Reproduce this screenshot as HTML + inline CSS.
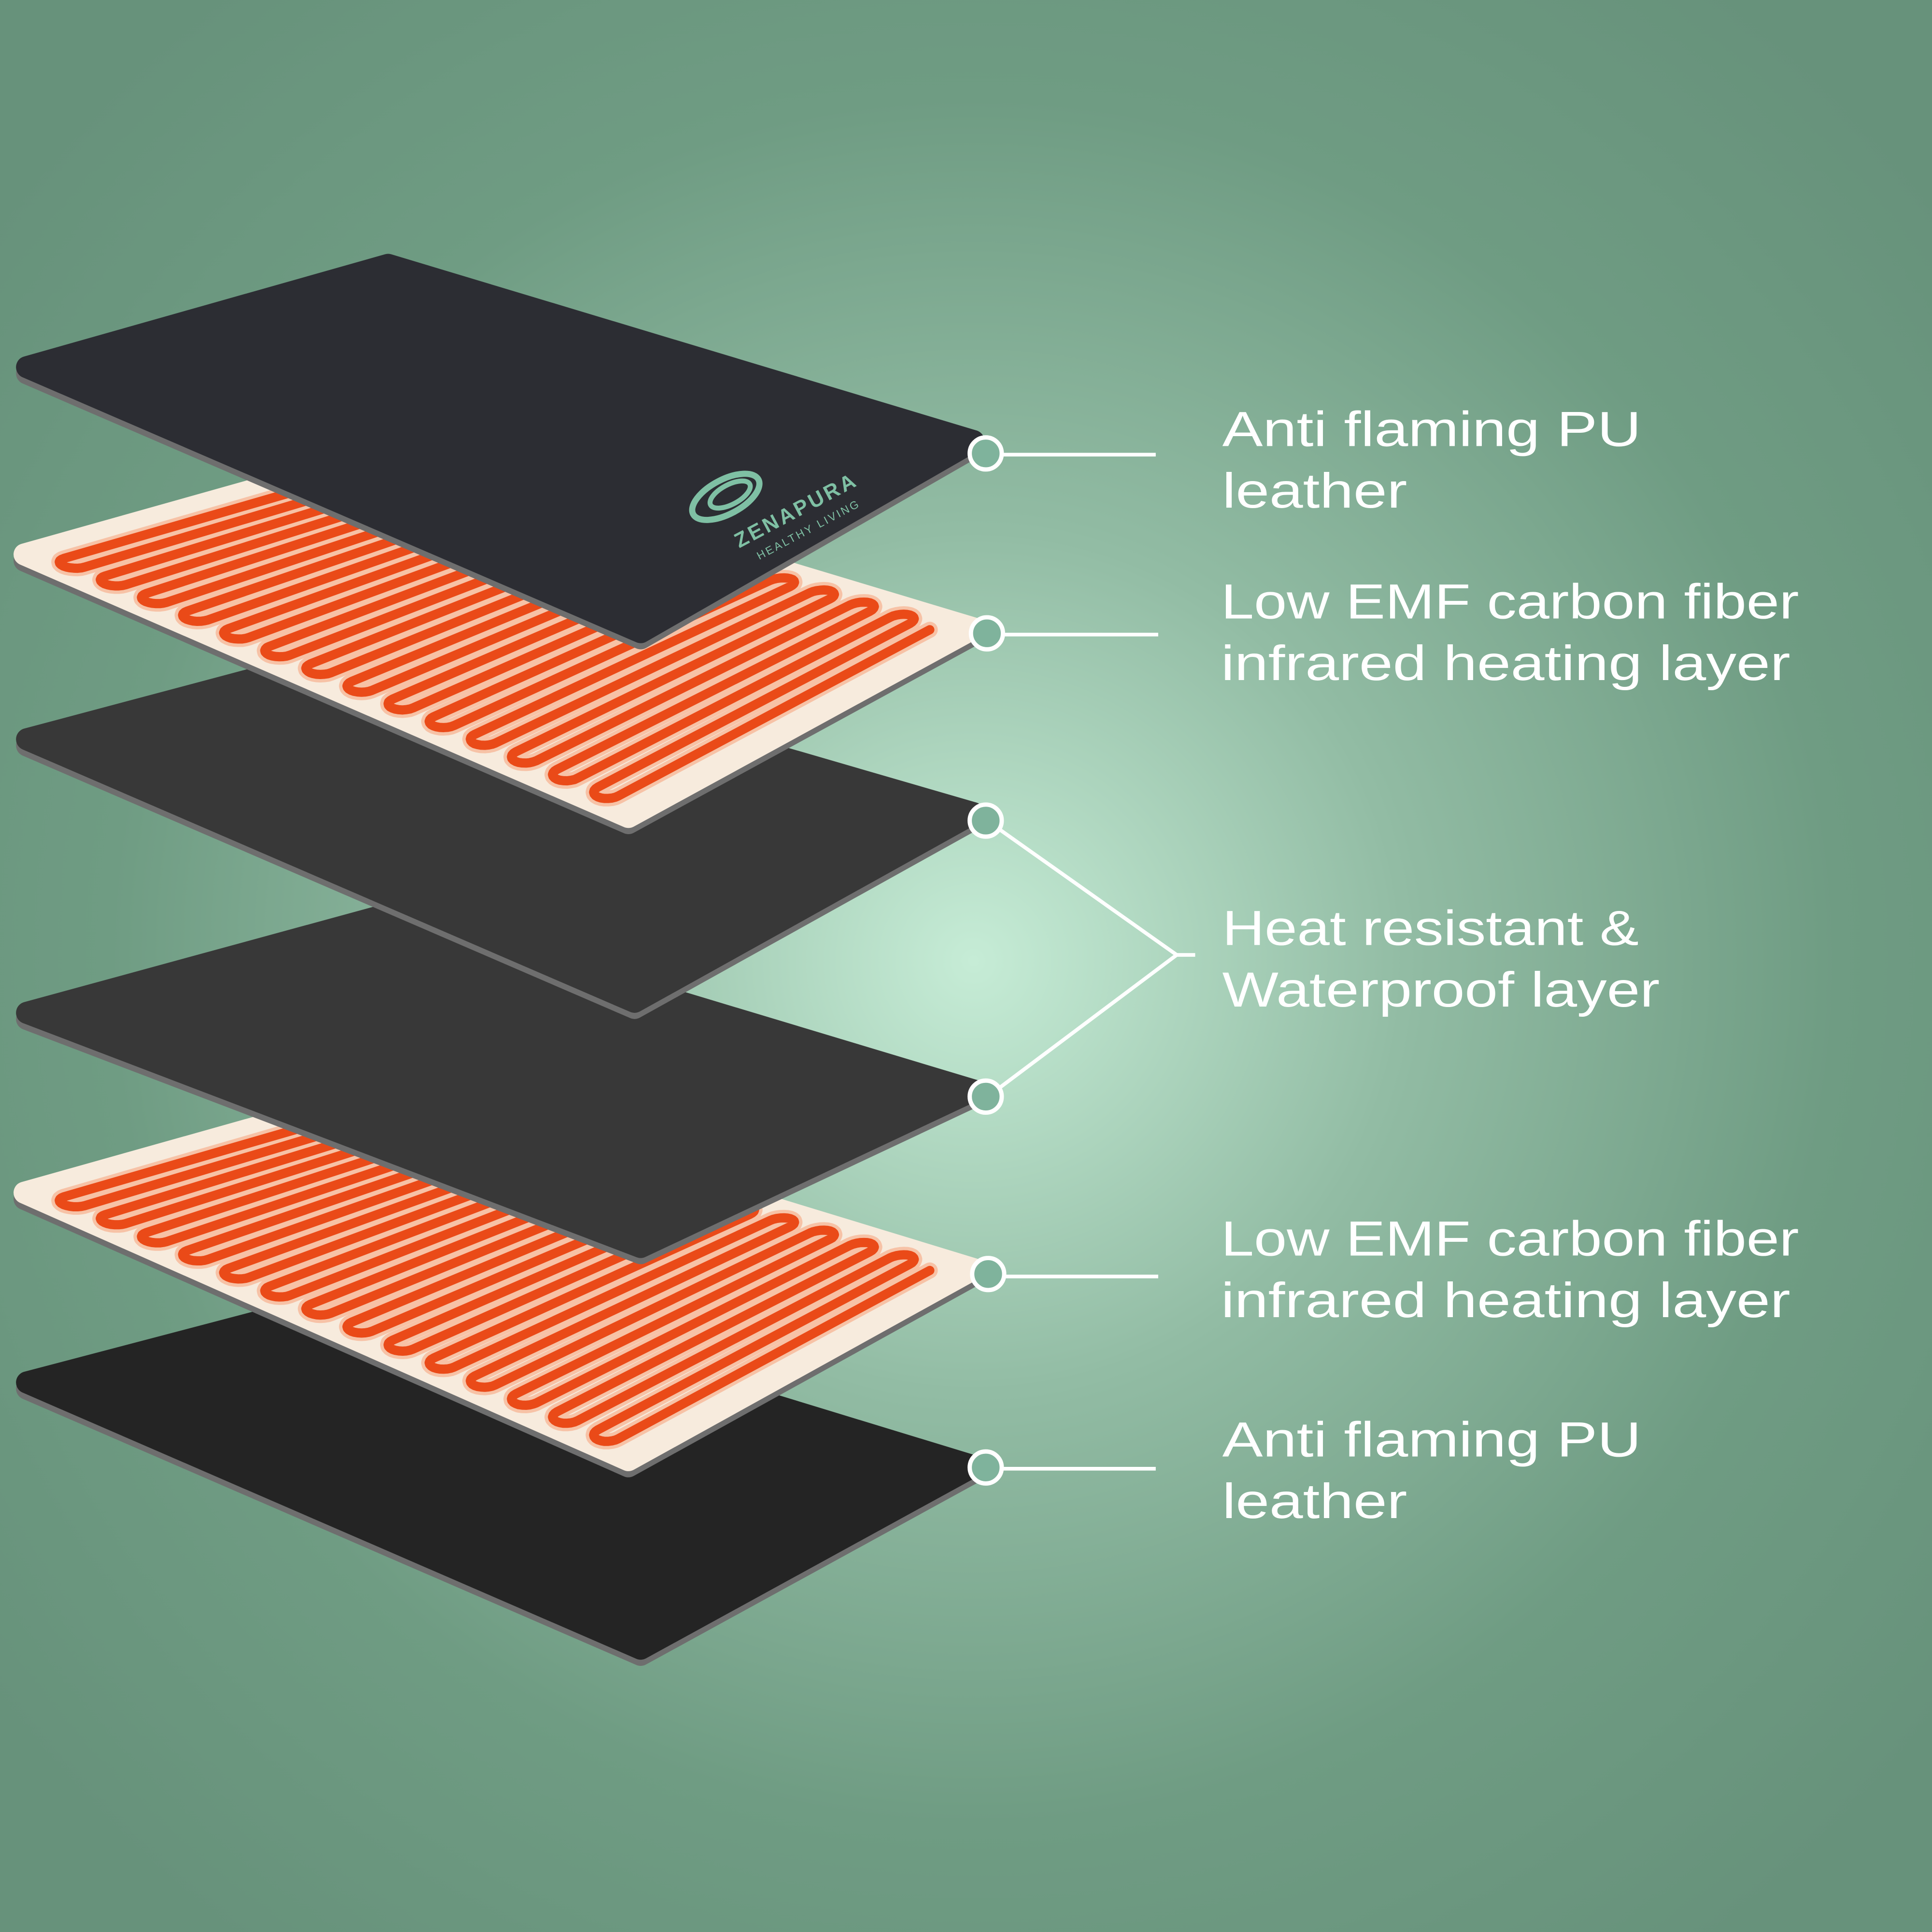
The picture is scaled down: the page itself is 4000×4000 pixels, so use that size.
<!DOCTYPE html>
<html><head><meta charset="utf-8"><style>
html,body{margin:0;padding:0;background:#6a967e;}
svg{display:block}
</style></head><body>
<svg id="s" xmlns="http://www.w3.org/2000/svg" width="4000" height="4000" viewBox="0 0 1568 1568">
<defs>
<radialGradient id="bg" cx="790" cy="780" r="1000" gradientUnits="userSpaceOnUse">
<stop offset="0" stop-color="#c6ecd6"/>
<stop offset="0.35" stop-color="#92bca4"/>
<stop offset="0.7" stop-color="#6f9c83"/>
<stop offset="1" stop-color="#67927b"/>
</radialGradient>
</defs>
<rect width="1568" height="1568" fill="url(#bg)"/>
<g id="layers"></g>
<g id="logo" transform="translate(590,405) rotate(-28)">
<ellipse cx="0" cy="-2" rx="30" ry="14" fill="none" stroke="#7fc0a4" stroke-width="5"/>
<ellipse cx="4" cy="-2" rx="18" ry="8" fill="none" stroke="#7fc0a4" stroke-width="4"/>
<text x="-10" y="40" font-family="Liberation Sans, sans-serif" font-size="17" font-weight="bold" fill="#7fc0a4" letter-spacing="2">ZENAPURA</text>
<text x="0" y="56" font-family="Liberation Sans, sans-serif" font-size="9" fill="#7fc0a4" letter-spacing="1.5">HEALTHY LIVING</text>
</g>
<g stroke="#ffffff" stroke-width="3" fill="none">
<line x1="813" y1="369" x2="938" y2="369"/>
<line x1="813" y1="515" x2="940" y2="515"/>
<line x1="811" y1="673" x2="955" y2="775"/>
<line x1="811" y1="883" x2="955" y2="775"/>
<line x1="955" y1="775" x2="970" y2="775"/>
<line x1="815" y1="1036" x2="940" y2="1036"/>
<line x1="813" y1="1192" x2="938" y2="1192"/>
</g>
<g stroke="#ffffff" stroke-width="3.5" fill="#7fb39c">
<circle cx="800" cy="368" r="13"/>
<circle cx="801" cy="514" r="13"/>
<circle cx="800" cy="666" r="13"/>
<circle cx="800" cy="890" r="13"/>
<circle cx="802" cy="1034" r="13"/>
<circle cx="800" cy="1191" r="13"/>
</g>
<g font-family="Liberation Sans, sans-serif" font-size="40" fill="#ffffff" lengthAdjust="spacingAndGlyphs">
<text x="992" y="362" textLength="340" lengthAdjust="spacingAndGlyphs">Anti flaming PU</text>
<text x="992" y="412" textLength="150" lengthAdjust="spacingAndGlyphs">leather</text>
<text x="991" y="502" textLength="469" lengthAdjust="spacingAndGlyphs">Low EMF carbon fiber</text>
<text x="991" y="552" textLength="462" lengthAdjust="spacingAndGlyphs">infrared heating layer</text>
<text x="992" y="767" textLength="338" lengthAdjust="spacingAndGlyphs">Heat resistant &amp;</text>
<text x="992" y="817" textLength="355" lengthAdjust="spacingAndGlyphs">Waterproof layer</text>
<text x="991" y="1019" textLength="469" lengthAdjust="spacingAndGlyphs">Low EMF carbon fiber</text>
<text x="991" y="1069" textLength="462" lengthAdjust="spacingAndGlyphs">infrared heating layer</text>
<text x="992" y="1182" textLength="340" lengthAdjust="spacingAndGlyphs">Anti flaming PU</text>
<text x="992" y="1232" textLength="150" lengthAdjust="spacingAndGlyphs">leather</text>
</g>
</svg>
<script>
var NS="http://www.w3.org/2000/svg";
var g=document.getElementById("layers");
var layers=[
 {L:[22,1122],T:[315,1045],R:[790,1190],B:[520,1338],c:"#242424",t:"dark"},
 {L:[20,968],T:[315,885],R:[790,1030],B:[510,1185],c:"#f7ebdd",t:"heat"},
 {L:[22,822],T:[315,742],R:[790,885],B:[520,1012],c:"#383838",t:"dark"},
 {L:[22,600],T:[315,522],R:[790,660],B:[515,813],c:"#383838",t:"dark"},
 {L:[20,450],T:[315,367],R:[790,510],B:[510,663],c:"#f7ebdd",t:"heat"},
 {L:[22,298],T:[315,215],R:[790,358],B:[520,513],c:"#2c2d33",t:"dark"}
];
function el(n,a){var e=document.createElementNS(NS,n);for(var k in a)e.setAttribute(k,a[k]);return e;}
function pts(l,dy){return [l.L,l.T,l.R,l.B].map(function(p){return p[0]+","+(p[1]+dy)}).join(" ");}
function bil(l,s,t){var L=l.L,T=l.T,R=l.R,B=l.B;
 return [(1-s)*(1-t)*L[0]+s*(1-t)*B[0]+s*t*R[0]+(1-s)*t*T[0],
         (1-s)*(1-t)*L[1]+s*(1-t)*B[1]+s*t*R[1]+(1-s)*t*T[1]];}
layers.forEach(function(l){
 g.appendChild(el("polygon",{points:pts(l,5),fill:"#6e6e6e",stroke:"#6e6e6e","stroke-width":"18","stroke-linejoin":"round"}));
 g.appendChild(el("polygon",{points:pts(l,0),fill:l.c,stroke:l.c,"stroke-width":"18","stroke-linejoin":"round"}));
 if(l.t=="heat"){
  var N=28,s0=0.035,s1=0.955,ds=(s1-s0)/(N-1),a=0.05,b=0.95;
  var P=[];
  for(var i=0;i<N;i++){
   var s=s0+i*ds;
   var ta=(i%2==0)?b:a, tb=(i%2==0)?a:b;
   P.push(bil(l,s,ta));P.push(bil(l,s,tb));
   if(i<N-1){
    var r=ds/2, sc=s+r, dir=(tb>0.5)?1:-1;
    for(var k=1;k<12;k++){var ang=Math.PI*k/12;
     P.push(bil(l,sc-Math.cos(ang)*r,tb+dir*Math.sin(ang)*0.03));}
   }
  }
  var d="M"+P.map(function(p){return p[0].toFixed(1)+","+p[1].toFixed(1)}).join(" L");
  g.appendChild(el("path",{d:d,fill:"none",stroke:"#f6b898","stroke-width":"13","stroke-linejoin":"round","stroke-linecap":"round",opacity:"0.8"}));
  g.appendChild(el("path",{d:d,fill:"none",stroke:"#ea4a18","stroke-width":"7.5","stroke-linejoin":"round","stroke-linecap":"round"}));
 }
});
</script>
</body></html>
